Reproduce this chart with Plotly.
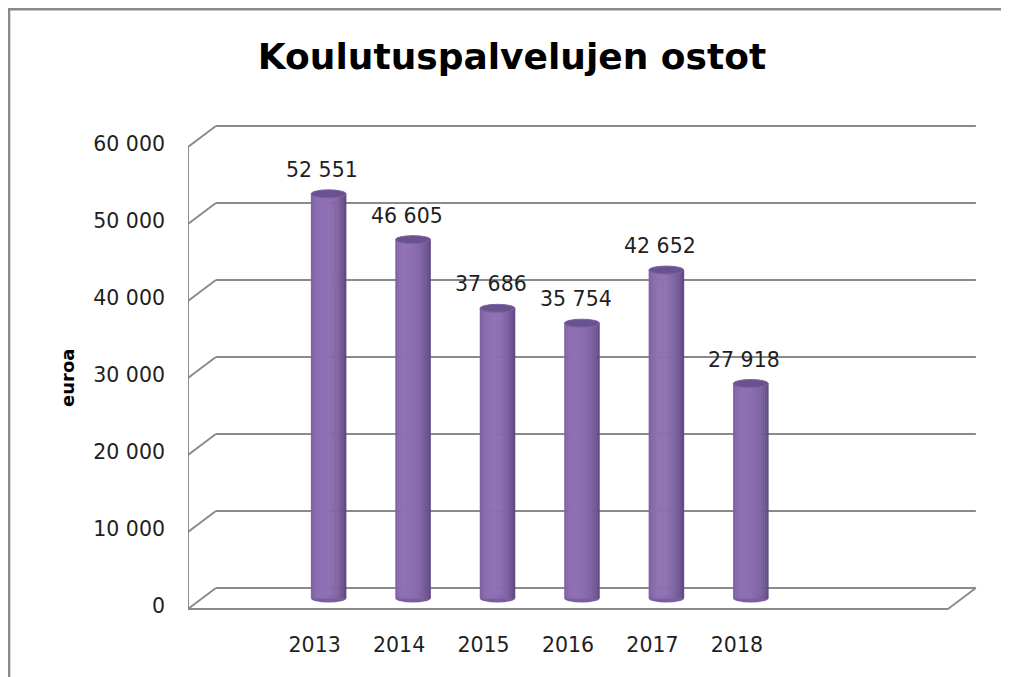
import math
import plotly.graph_objects as go

# ---------------- data ----------------
years = ["2013", "2014", "2015", "2016", "2017", "2018"]
values = [52551, 46605, 37686, 35754, 42652, 27918]
value_labels = ["52 551", "46 605", "37 686", "35 754", "42 652", "27 918"]
y_ticks = [0, 10000, 20000, 30000, 40000, 50000, 60000]
y_tick_labels = ["0", "10 000", "20 000", "30 000", "40 000", "50 000", "60 000"]
title_text = "Koulutuspalvelujen ostot"
y_title_text = "euroa"

# ---------------- geometry / style ----------------
OFF = 8                   # default page margin of the html body
W, H = 1009 - OFF, 677 - OFF
L, T = 188 - OFF, 119 - OFF
SLOT_PX = 84.4            # px per category slot
PX_PER_UNIT = 0.0077      # px per euro on the y axis
N_SLOTS = 9               # 1 empty slot left, 6 years, 2 empty slots right
plot_right = 976.6 - OFF
plot_bottom = 616 - OFF
R = W - plot_right
B = H - plot_bottom
DX = 0.33                 # depth offset (category units)
DY = 21 / PX_PER_UNIT     # depth offset (euro units)
BAR_W = 0.415
CAP = 4 / PX_PER_UNIT     # half height of the cylinder caps
GRID = "#8a8a8a"
FONT = "DejaVu Sans"

plot_w = W - L - R
plot_h = H - T - B
x_min = -0.5
x_max = x_min + plot_w / SLOT_PX
zero_px = 609 - OFF
y_min = -(plot_bottom - zero_px) / PX_PER_UNIT
y_max = (zero_px - T) / PX_PER_UNIT

x_pos = [i + 1 for i in range(len(years))]
bar_x = [p + DX / 2 for p in x_pos]
bar_base = DY / 2

fig = go.Figure()

# cylinder shading made of narrow strips
N = 18
dark = (78, 58, 108)
light = (143, 112, 180)
strip_w = BAR_W / N
for k in range(N):
    t = (k + 0.5) / N
    ang = math.asin(2 * t - 1)
    inten = 0.33 + 0.67 * max(0.0, math.cos(ang + 0.35))
    col = "rgb(%d,%d,%d)" % tuple(int(d + inten * (l - d)) for d, l in zip(dark, light))
    fig.add_trace(go.Bar(
        x=bar_x, y=values, base=bar_base,
        width=strip_w * 1.25, offset=-BAR_W / 2 + k * strip_w - strip_w * 0.1,
        marker=dict(color=col, line=dict(width=0)),
        hoverinfo="skip", showlegend=False,
    ))

shapes = []
# back wall gridlines + left wall diagonals
for v in y_ticks:
    shapes.append(dict(type="line", xref="x", yref="y", x0=x_min + DX, x1=x_min + N_SLOTS + DX,
                       y0=v + DY, y1=v + DY, line=dict(color=GRID, width=1.9), layer="below"))
    shapes.append(dict(type="line", xref="x", yref="y", x0=x_min, x1=x_min + DX,
                       y0=v, y1=v + DY, line=dict(color=GRID, width=1.9), layer="below"))
# left wall front edge
shapes.append(dict(type="line", xref="x", yref="y", x0=x_min, x1=x_min,
                   y0=y_ticks[0], y1=y_ticks[-1], line=dict(color=GRID, width=1.9), layer="below"))
# floor front edge and right diagonal
shapes.append(dict(type="line", xref="x", yref="y", x0=x_min, x1=x_min + N_SLOTS,
                   y0=0, y1=0, line=dict(color=GRID, width=1.9), layer="below"))
shapes.append(dict(type="line", xref="x", yref="y", x0=x_min + N_SLOTS, x1=x_min + N_SLOTS + DX,
                   y0=0, y1=DY, line=dict(color=GRID, width=1.9), layer="below"))

# cylinder bottoms and tops
for bx, v in zip(bar_x, values):
    shapes.append(dict(type="circle", xref="x", yref="y",
                       x0=bx - BAR_W / 2, x1=bx + BAR_W / 2,
                       y0=bar_base - CAP, y1=bar_base + CAP,
                       fillcolor="#7a5f9f", line=dict(width=0), layer="below"))
    shapes.append(dict(type="circle", xref="x", yref="y",
                       x0=bx - BAR_W / 2, x1=bx + BAR_W / 2,
                       y0=bar_base + v - CAP, y1=bar_base + v + CAP,
                       fillcolor="#6a5290", line=dict(color="#7b64a0", width=1), layer="above"))

# outer chart-area frame (partly cropped)
def px_to_paper_x(px):
    return (px - L) / plot_w

def px_to_paper_y(py):
    return (plot_bottom - py) / plot_h

shapes.append(dict(type="path", xref="paper", yref="paper",
                   path="M %f %f L %f %f L %f %f" % (
                       px_to_paper_x(1.2), px_to_paper_y(H + 5),
                       px_to_paper_x(1.2), px_to_paper_y(1.2),
                       px_to_paper_x(W + 5), px_to_paper_y(1.2)),
                   line=dict(color="#8a8a8a", width=2.4), layer="above"))

annotations = []
for bx, v, lab in zip(bar_x, values, value_labels):
    annotations.append(dict(x=bx - 0.075, y=bar_base + v, xref="x", yref="y", text=lab,
                            showarrow=False, yshift=24, yanchor="middle", xanchor="center",
                            font=dict(family=FONT, size=20.5, color="#1f1f1f")))
annotations.append(dict(x=px_to_paper_x(67 - OFF), y=px_to_paper_y(378 - OFF), xref="paper", yref="paper",
                        text="<b>%s</b>" % y_title_text, textangle=-90, showarrow=False,
                        xanchor="center", yanchor="middle",
                        font=dict(family=FONT, size=18, color="#000000")))

fig.update_layout(
    width=W, height=H,
    margin=dict(l=L, r=R, t=T, b=B, pad=0),
    paper_bgcolor="white", plot_bgcolor="white",
    barmode="overlay",
    showlegend=False,
    title=dict(text="<b>%s</b>" % title_text, x=(512 - OFF) / W, xref="container", xanchor="center",
               y=1 - (56 - OFF) / H, yref="container", yanchor="middle",
               font=dict(family=FONT, size=36, color="#000000")),
    xaxis=dict(range=[x_min, x_max], tickmode="array", tickvals=x_pos, ticktext=years,
               showgrid=False, zeroline=False, showline=False, ticks="",
               ticklabelstandoff=14,
               tickfont=dict(family=FONT, size=20.5, color="#1f1f1f")),
    yaxis=dict(range=[y_min, y_max], tickmode="array", tickvals=y_ticks, ticktext=y_tick_labels,
               showgrid=False, zeroline=False, showline=False, ticks="",
               ticklabelstandoff=22, ticklabelshift=-3,
               tickfont=dict(family=FONT, size=20.5, color="#1f1f1f")),
    shapes=shapes,
    annotations=annotations,
)

fig.write_html("out.html", config={"displayModeBar": False})
